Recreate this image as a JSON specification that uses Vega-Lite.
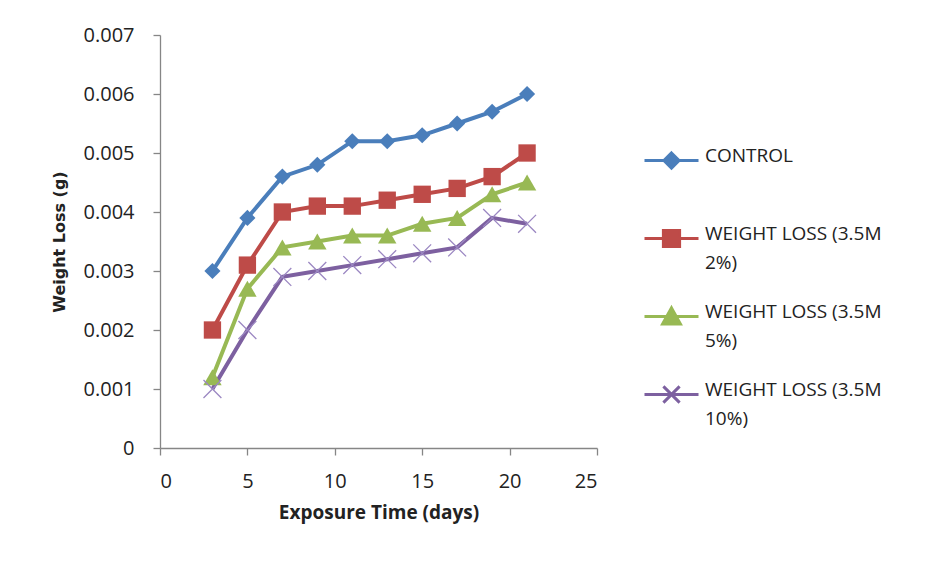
{
  "$schema": "https://vega.github.io/schema/vega-lite/v6.json",
  "autosize": "none",
  "width": 437,
  "height": 413,
  "padding": {"left": 160, "top": 35, "right": 337, "bottom": 117},
  "background": "white",
  "config": {
    "view": {"stroke": null},
    "font": "Open Sans",
    "axis": {
      "domainColor": "#868686",
      "tickColor": "#868686",
      "domainWidth": 1.3,
      "tickWidth": 1.3,
      "grid": false,
      "labelFont": "Open Sans",
      "labelFontSize": 20,
      "labelColor": "#222222",
      "titleFont": "Open Sans",
      "titleFontSize": 19,
      "titleFontWeight": "bold",
      "titleColor": "#222222"
    }
  },
  "data": {
    "values": [
      {"day": 3, "series": "CONTROL", "loss": 0.003},
      {"day": 5, "series": "CONTROL", "loss": 0.0039},
      {"day": 7, "series": "CONTROL", "loss": 0.0046},
      {"day": 9, "series": "CONTROL", "loss": 0.0048},
      {"day": 11, "series": "CONTROL", "loss": 0.0052},
      {"day": 13, "series": "CONTROL", "loss": 0.0052},
      {"day": 15, "series": "CONTROL", "loss": 0.0053},
      {"day": 17, "series": "CONTROL", "loss": 0.0055},
      {"day": 19, "series": "CONTROL", "loss": 0.0057},
      {"day": 21, "series": "CONTROL", "loss": 0.006},
      {"day": 3, "series": "WEIGHT LOSS (3.5M 2%)", "loss": 0.002},
      {"day": 5, "series": "WEIGHT LOSS (3.5M 2%)", "loss": 0.0031},
      {"day": 7, "series": "WEIGHT LOSS (3.5M 2%)", "loss": 0.004},
      {"day": 9, "series": "WEIGHT LOSS (3.5M 2%)", "loss": 0.0041},
      {"day": 11, "series": "WEIGHT LOSS (3.5M 2%)", "loss": 0.0041},
      {"day": 13, "series": "WEIGHT LOSS (3.5M 2%)", "loss": 0.0042},
      {"day": 15, "series": "WEIGHT LOSS (3.5M 2%)", "loss": 0.0043},
      {"day": 17, "series": "WEIGHT LOSS (3.5M 2%)", "loss": 0.0044},
      {"day": 19, "series": "WEIGHT LOSS (3.5M 2%)", "loss": 0.0046},
      {"day": 21, "series": "WEIGHT LOSS (3.5M 2%)", "loss": 0.005},
      {"day": 3, "series": "WEIGHT LOSS (3.5M 5%)", "loss": 0.0012},
      {"day": 5, "series": "WEIGHT LOSS (3.5M 5%)", "loss": 0.0027},
      {"day": 7, "series": "WEIGHT LOSS (3.5M 5%)", "loss": 0.0034},
      {"day": 9, "series": "WEIGHT LOSS (3.5M 5%)", "loss": 0.0035},
      {"day": 11, "series": "WEIGHT LOSS (3.5M 5%)", "loss": 0.0036},
      {"day": 13, "series": "WEIGHT LOSS (3.5M 5%)", "loss": 0.0036},
      {"day": 15, "series": "WEIGHT LOSS (3.5M 5%)", "loss": 0.0038},
      {"day": 17, "series": "WEIGHT LOSS (3.5M 5%)", "loss": 0.0039},
      {"day": 19, "series": "WEIGHT LOSS (3.5M 5%)", "loss": 0.0043},
      {"day": 21, "series": "WEIGHT LOSS (3.5M 5%)", "loss": 0.0045},
      {"day": 3, "series": "WEIGHT LOSS (3.5M 10%)", "loss": 0.001},
      {"day": 5, "series": "WEIGHT LOSS (3.5M 10%)", "loss": 0.002},
      {"day": 7, "series": "WEIGHT LOSS (3.5M 10%)", "loss": 0.0029},
      {"day": 9, "series": "WEIGHT LOSS (3.5M 10%)", "loss": 0.003},
      {"day": 11, "series": "WEIGHT LOSS (3.5M 10%)", "loss": 0.0031},
      {"day": 13, "series": "WEIGHT LOSS (3.5M 10%)", "loss": 0.0032},
      {"day": 15, "series": "WEIGHT LOSS (3.5M 10%)", "loss": 0.0033},
      {"day": 17, "series": "WEIGHT LOSS (3.5M 10%)", "loss": 0.0034},
      {"day": 19, "series": "WEIGHT LOSS (3.5M 10%)", "loss": 0.0039},
      {"day": 21, "series": "WEIGHT LOSS (3.5M 10%)", "loss": 0.0038}
    ]
  },
  "encoding": {
    "x": {
      "field": "day", "type": "quantitative",
      "scale": {"domain": [0, 25], "nice": false, "zero": true},
      "axis": {"values": [0, 5, 10, 15, 20, 25], "title": "Exposure Time (days)", "tickSize": 7, "labelPadding": 16, "titlePadding": 12}
    },
    "y": {
      "field": "loss", "type": "quantitative",
      "scale": {"domain": [0, 0.007], "nice": false},
      "axis": {"values": [0, 0.001, 0.002, 0.003, 0.004, 0.005, 0.006, 0.007], "labelExpr": "datum.value == 0 ? '0' : format(datum.value, '.3f')", "title": "Weight Loss (g)", "titleFont": "DejaVu Sans", "titleFontSize": 16, "tickSize": 7, "labelPadding": 19, "titlePadding": 16}
    }
  },
  "layer": [
    {
      "mark": {"type": "line", "strokeWidth": 4},
      "encoding": {
        "color": {
          "field": "series", "type": "nominal",
          "scale": {
            "domain": ["CONTROL", "WEIGHT LOSS (3.5M 2%)", "WEIGHT LOSS (3.5M 5%)", "WEIGHT LOSS (3.5M 10%)"],
            "range": ["#4A7EBB", "#BE4B48", "#98B954", "#7D60A0"]
          },
          "legend": {
            "orient": "none",
            "legendX": 483,
            "legendY": 97,
            "title": null,
            "symbolSize": 2916,
            "symbolStrokeWidth": 3,
            "rowPadding": 15,
            "labelFont": "Open Sans",
            "labelFontSize": 19,
            "labelColor": "#222222",
            "labelOffset": 5,
            "labelLimit": 300,
            "labelExpr": "indexof(datum.label, '%') > 0 ? [slice(datum.label, 0, 17), slice(datum.label, 18)] : [datum.label, ' ']",
            "encode": {
              "symbols": {
                "update": {
                  "shape": {"signal": "datum.value == 'CONTROL' ? 'M-1,0L1,0M0,-0.28L0.28,0L0,0.28L-0.28,0Z' : indexof(datum.value, '2%') > 0 ? 'M-1,0L1,0M-0.3,-0.3L0.3,-0.3L0.3,0.3L-0.3,0.3Z' : indexof(datum.value, '5%') > 0 ? 'M-1,0L1,0M0,-0.32L0.33,0.28L-0.33,0.28Z' : 'M-1,0L1,0M-0.3,-0.3L0.3,0.3M-0.3,0.3L0.3,-0.3'"},
                  "fill": {"scale": "color", "field": "value"},
                  "stroke": {"scale": "color", "field": "value"},
                  "strokeWidth": {"value": 3}
                }
              },
              "labels": {
                "update": {
                  "baseline": {"value": "top"},
                  "dy": {"value": -14},
                  "lineHeight": {"value": 29}
                }
              }
            }
          }
        }
      }
    },
    {
      "transform": [{"filter": "datum.series != 'WEIGHT LOSS (3.5M 10%)'"}],
      "mark": {"type": "point", "filled": true, "opacity": 1},
      "encoding": {
        "color": {"field": "series", "type": "nominal", "legend": null},
        "shape": {
          "field": "series", "type": "nominal",
          "scale": {
            "domain": ["CONTROL", "WEIGHT LOSS (3.5M 2%)", "WEIGHT LOSS (3.5M 5%)"],
            "range": ["diamond", "square", "triangle-up"]
          },
          "legend": null
        },
        "size": {
          "field": "series", "type": "nominal",
          "scale": {
            "domain": ["CONTROL", "WEIGHT LOSS (3.5M 2%)", "WEIGHT LOSS (3.5M 5%)"],
            "range": [260, 340, 280]
          },
          "legend": null
        }
      }
    },
    {
      "transform": [{"filter": "datum.series == 'WEIGHT LOSS (3.5M 10%)'"}],
      "mark": {"type": "point", "filled": false, "shape": "M-1,-1L1,1M-1,1L1,-1", "size": 320, "strokeWidth": 1.3, "color": "#9B87C2", "opacity": 1},
      "encoding": {}
    }
  ]
}
